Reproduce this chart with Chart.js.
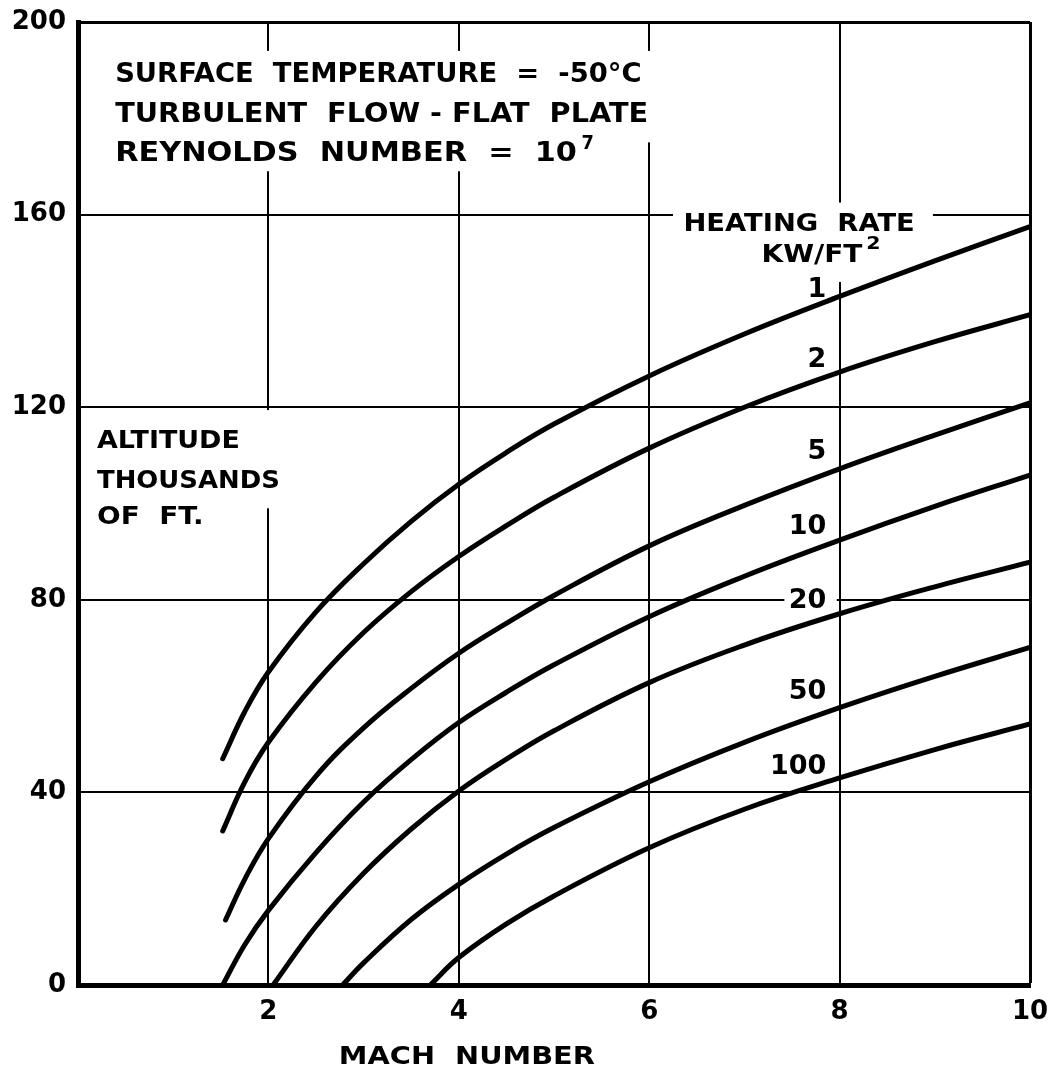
<!DOCTYPE html>
<html>
<head>
<meta charset="utf-8">
<script src="https://cdn.jsdelivr.net/npm/chart.js@4/dist/chart.umd.min.js"></script>
<style>
    html, body { margin: 0; padding: 0; background: #fff; }
    canvas { display: block; }
</style>
</head>
<body>
<canvas id="heatChart" width="1054" height="1069"></canvas>
<script>
// Heating rate curves - altitude vs Mach number

// Heating rate of each curve (kW/ft2)
const heatingRates = ['1', '2', '5', '10', '20', '50', '100'];

// Mach number / altitude (thousands of ft) for each curve
const mach1 = [1.52, 1.75, 2, 2.5, 3, 3.5, 4, 4.5, 5, 6, 7, 8, 9, 10];
const alt1 = [47, 56.7, 65, 77.5, 87.5, 96.3, 104, 110.6, 116.5, 126.5, 135.2, 143, 150.4, 157.5];

const mach2 = [1.52, 1.75, 2, 2.5, 3, 3.5, 4, 4.5, 5, 6, 7, 8, 9, 10];
const alt2 = [32, 42.1, 50.4, 62.9, 73.2, 81.7, 89, 95.4, 101.3, 111.5, 120, 127.3, 133.6, 139.2];

const mach5 = [1.55, 1.75, 2, 2.5, 3, 3.5, 4, 4.5, 5, 6, 7, 8, 9, 10];
const alt5 = [13.5, 21.9, 30.4, 43.4, 53.4, 61.6, 68.9, 75.1, 80.9, 91.2, 99.6, 107.2, 114.2, 120.9];

const mach10 = [1.52, 1.75, 2, 2.5, 3, 3.5, 4, 4.5, 5, 6, 7, 8, 9, 10];
const alt10 = [0, 8.3, 15.5, 27.5, 38, 46.8, 54.5, 60.8, 66.5, 76.5, 84.9, 92.4, 99.4, 105.9];

const mach20 = [2.05, 2.5, 3, 3.5, 4, 4.5, 5, 6, 7, 8, 9, 10];
const alt20 = [0, 12.2, 23.2, 32.4, 40.3, 46.9, 52.8, 62.8, 70.6, 77.1, 82.7, 87.8];

const mach50 = [2.78, 3, 3.5, 4, 4.5, 5, 6, 7, 8, 9, 10];
const alt50 = [0, 4.6, 13.6, 20.9, 27.2, 32.7, 42.2, 50.4, 57.6, 64.1, 70.1];

const mach100 = [3.7, 4, 4.5, 5, 6, 7, 8, 9, 10];
const alt100 = [0, 5.7, 12.7, 18.5, 28.5, 36.5, 43, 48.9, 54.2];

// Tick labels
const xTickLabels = ['', '2', '4', '6', '8', '10'];
const yTickLabels = ['0', '40', '80', '120', '160', '200'];

const curves = [
    [mach1, alt1], [mach2, alt2], [mach5, alt5], [mach10, alt10],
    [mach20, alt20], [mach50, alt50], [mach100, alt100]
];

const INK = '#000';
const FONT = '"DejaVu Sans", sans-serif';

// Label placement (data units)
const curveLabelX = 7.86;
const curveLabelY = [145, 130.4, 111.4, 95.7, 80.3, 61.5, 46];

// White boxes that break the grid behind the lettering (data units)
const gridGaps = [
    { x0: 0.3, x1: 5.5, y0: 169, y1: 194 },
    { x0: 5.5, x1: 6.3, y0: 175, y1: 194 },
    { x0: 6.25, x1: 8.98, y0: 146, y1: 162.5 },
    { x0: 0.2, x1: 2.3, y0: 99, y1: 119.4 },
    { x0: 7.42, x1: 7.97, y0: 77.5, y1: 82.5 }
];

// Draw text stretched between two x positions, centred on cy
function fitText(ctx, text, left, right, cy, size) {
    ctx.font = `bold ${size}px ${FONT}`;
    const w = ctx.measureText(text).width;
    ctx.save();
    ctx.translate(left, cy + size * 0.365);
    ctx.scale((right - left) / w, 1);
    ctx.textAlign = 'left';
    ctx.textBaseline = 'alphabetic';
    ctx.fillText(text, 0, 0);
    ctx.restore();
}

const gapPlugin = {
    id: 'gridGaps',
    beforeDatasetsDraw(chart) {
        const { ctx, scales: { x, y } } = chart;
        ctx.save();
        ctx.fillStyle = '#fff';
        gridGaps.forEach(g => {
            const px0 = x.getPixelForValue(g.x0), px1 = x.getPixelForValue(g.x1);
            const py0 = y.getPixelForValue(g.y1), py1 = y.getPixelForValue(g.y0);
            ctx.fillRect(px0, py0, px1 - px0, py1 - py0);
        });
        ctx.restore();
    }
};

const letteringPlugin = {
    id: 'lettering',
    afterDatasetsDraw(chart) {
        const { ctx, scales: { x, y }, chartArea } = chart;
        const X = v => x.getPixelForValue(v);
        const Y = v => y.getPixelForValue(v);
        ctx.save();
        ctx.fillStyle = INK;

        // note block
        fitText(ctx, 'SURFACE  TEMPERATURE  =  -50°C', X(0.39), X(5.92), Y(189.6), 26);
        fitText(ctx, 'TURBULENT  FLOW - FLAT  PLATE', X(0.39), X(5.99), Y(181.2), 26);
        fitText(ctx, 'REYNOLDS  NUMBER  =  10', X(0.39), X(5.24), Y(173), 26);
        fitText(ctx, '7', X(5.29), X(5.42), Y(175.1), 19);

        // y axis title
        fitText(ctx, 'ALTITUDE', X(0.2), X(1.7), Y(113.4), 25);
        fitText(ctx, 'THOUSANDS', X(0.2), X(2.12), Y(105.1), 25);
        fitText(ctx, 'OF  FT.', X(0.2), X(1.32), Y(97.6), 25);

        // curve key
        fitText(ctx, 'HEATING  RATE', X(6.36), X(8.79), Y(158.5), 25);
        fitText(ctx, 'KW/FT', X(7.18), X(8.24), Y(152), 25);
        fitText(ctx, '2', X(8.28), X(8.43), Y(154.3), 18);

        ctx.font = `bold 27px ${FONT}`;
        ctx.textAlign = 'right';
        ctx.textBaseline = 'alphabetic';
        heatingRates.forEach((lbl, i) => {
            ctx.fillText(lbl, X(curveLabelX), Y(curveLabelY[i]) + 10);
        });

        // x axis title
        fitText(ctx, 'MACH  NUMBER', X(2.74), X(5.43), chartArea.bottom + 70, 25);
        ctx.restore();
    }
};

function createChart() {
    const ctx = document.getElementById('heatChart');

    const datasets = curves.map(([mx, alt], i) => ({
        label: heatingRates[i],
        data: mx.map((m, j) => ({ x: m, y: alt[j] })),
        borderColor: INK,
        borderWidth: 5,
        pointRadius: 0,
        fill: false,
        tension: 0.4,
        borderCapStyle: 'round'
    }));

    new Chart(ctx, {
        type: 'line',
        data: { datasets },
        options: {
            responsive: false,
            animation: false,
            events: [],
            layout: { padding: { top: 22, right: 24, left: 0, bottom: 0 } },
            plugins: {
                legend: { display: false },
                tooltip: { enabled: false }
            },
            scales: {
                x: {
                    type: 'linear',
                    min: 0,
                    max: 10,
                    afterFit: s => {
                        s.height = 84;
                        s.paddingLeft = 0;
                        s.paddingRight = 0;
                    },
                    grid: {
                        color: INK,
                        lineWidth: c => (c.tick && c.tick.value === 10 ? 3 : 2),
                        drawTicks: false
                    },
                    border: { display: true, color: INK, width: 5 },
                    ticks: {
                        stepSize: 2,
                        padding: 12,
                        color: INK,
                        font: { family: FONT, size: 26, weight: 'bold' },
                        callback: (v, i) => xTickLabels[i]
                    }
                },
                y: {
                    type: 'linear',
                    min: 0,
                    max: 200,
                    afterFit: s => {
                        s.width = 78;
                        s.paddingTop = 0;
                        s.paddingBottom = 0;
                    },
                    grid: {
                        color: INK,
                        lineWidth: c => (c.tick && c.tick.value === 200 ? 3 : 2),
                        drawTicks: false
                    },
                    border: { display: true, color: INK, width: 5 },
                    ticks: {
                        stepSize: 40,
                        padding: 12,
                        color: INK,
                        font: { family: FONT, size: 26, weight: 'bold' },
                        callback: (v, i) => yTickLabels[i]
                    }
                }
            }
        },
        plugins: [gapPlugin, letteringPlugin]
    });
}

createChart();
</script>
</body>
</html>
